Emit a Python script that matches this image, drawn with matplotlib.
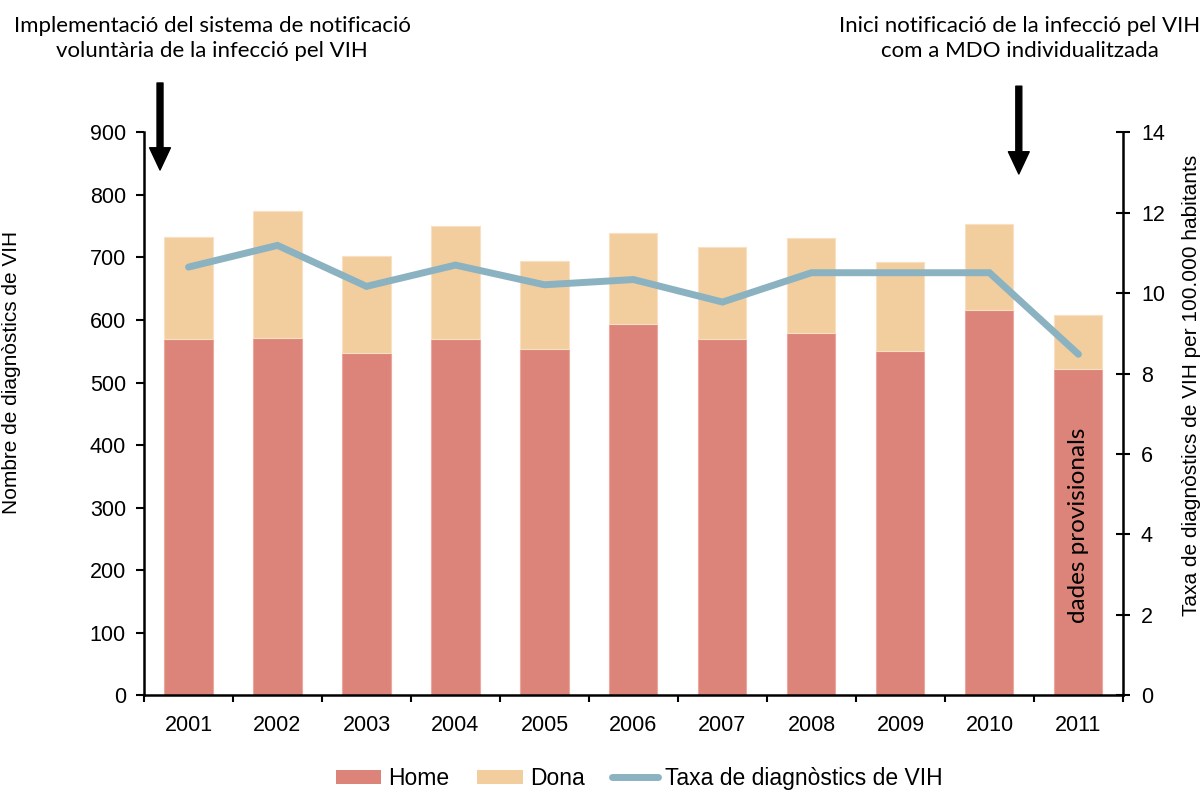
from matplotlib import pyplot as plt
from matplotlib.patches import Patch
from matplotlib.lines import Line2D
import numpy as np

# data
years = ['2001', '2002', '2003', '2004', '2005', '2006', '2007', '2008', '2009', '2010', '2011']
home = [569, 572, 547, 569, 553, 593, 570, 579, 551, 616, 522]
dona = [163, 203, 156, 181, 142, 146, 146, 152, 142, 138, 86]
taxa = [10.65, 11.19, 10.17, 10.70, 10.21, 10.34, 9.78, 10.51, 10.51, 10.51, 8.48]

col_home = '#DC8479'
col_dona = '#F2CE9F'
col_taxa = '#8BB2C0'

plt.rcParams['font.family'] = ['Liberation Sans', 'DejaVu Sans']
fsize_tick = 15.5
note_font = 'Lato'

fig = plt.figure(figsize=(12.01, 7.98), dpi=100)
ax = fig.add_axes([0.1199, 0.129, 0.8151, 0.705])

x = np.arange(len(years))
ax.bar(x, home, width=0.54, color=col_home, edgecolor='#EBA69D', linewidth=0.8, zorder=2)
ax.bar(x, dona, width=0.54, bottom=home, color=col_dona, edgecolor='#F8E0C2', linewidth=0.8, zorder=2)

ax.set_xlim(-0.5, len(years) - 0.5)
ax.set_ylim(0, 900)
ax.set_yticks(range(0, 901, 100))
ax.set_xticks(x)
ax.set_xticklabels(years)
# ticks between the bars, not under them
ax.set_xticks(np.arange(-0.5, len(years), 1), minor=True)
ax.tick_params(axis='x', which='major', length=0, pad=14, labelsize=fsize_tick)
ax.tick_params(axis='x', which='minor', length=5, width=1.5, direction='out')
ax.tick_params(axis='y', length=6, width=1.5, direction='out', labelsize=fsize_tick, pad=7)
for s in ['top', 'right']:
    ax.spines[s].set_visible(False)
for s in ['left', 'bottom']:
    ax.spines[s].set_linewidth(1.8)

ax.set_ylabel('Nombre de diagnòstics de VIH', fontsize=15)
ax.yaxis.set_label_coords(-0.126, 0.574)

ax2 = ax.twinx()
ax2.plot(x, taxa, color=col_taxa, linewidth=5, solid_capstyle='round', solid_joinstyle='miter', zorder=3)
ax2.set_ylim(0, 14)
ax2.set_yticks(range(0, 15, 2))
ax2.tick_params(axis='y', length=10, width=1.5, direction='inout', labelsize=fsize_tick, pad=8)
for s in ['top', 'left', 'bottom']:
    ax2.spines[s].set_visible(False)
ax2.spines['right'].set_linewidth(1.8)
ax2.set_ylabel('Taxa de diagnòstics de VIH per 100.000 habitants', fontsize=15)
ax2.yaxis.set_label_coords(1.060, 0.55)

# provisional data note on the 2011 bar
ax.text(10, 272, 'dades provisionals', rotation=90, ha='center', va='center',
        fontsize=17.5, family=note_font, zorder=4)

# arrows and notes above the plot
arrow_kw = dict(facecolor='black', edgecolor='black', width=4.3, headwidth=15, headlength=16)
ax.annotate('', xy=(-0.32, 0.787), xytext=(-0.32, 0.896),
            xycoords=('data', 'figure fraction'), textcoords=('data', 'figure fraction'),
            arrowprops=arrow_kw)
ax.annotate('', xy=(9.33, 0.782), xytext=(9.33, 0.892),
            xycoords=('data', 'figure fraction'), textcoords=('data', 'figure fraction'),
            arrowprops=arrow_kw)

fig.text(0.1765, 0.952, 'Implementació del sistema de notificació\nvoluntària de la infecció pel VIH',
         ha='center', va='center', fontsize=16, family=note_font, linespacing=1.3)
fig.text(0.849, 0.952, 'Inici notificació de la infecció pel VIH\ncom a MDO individualitzada',
         ha='center', va='center', fontsize=16, family=note_font, linespacing=1.3)

handles = [Patch(facecolor=col_home), Patch(facecolor=col_dona),
           Line2D([0], [0], color=col_taxa, linewidth=5, solid_capstyle='round')]
fig.legend(handles, ['Home', 'Dona', 'Taxa de diagnòstics de VIH'], loc='lower center',
           bbox_to_anchor=(0.532, -0.016), ncol=3, frameon=False, fontsize=16.5,
           handlelength=2.0, handleheight=0.6, handletextpad=0.3, columnspacing=1.2)

fig.savefig('out.png', dpi=100)
